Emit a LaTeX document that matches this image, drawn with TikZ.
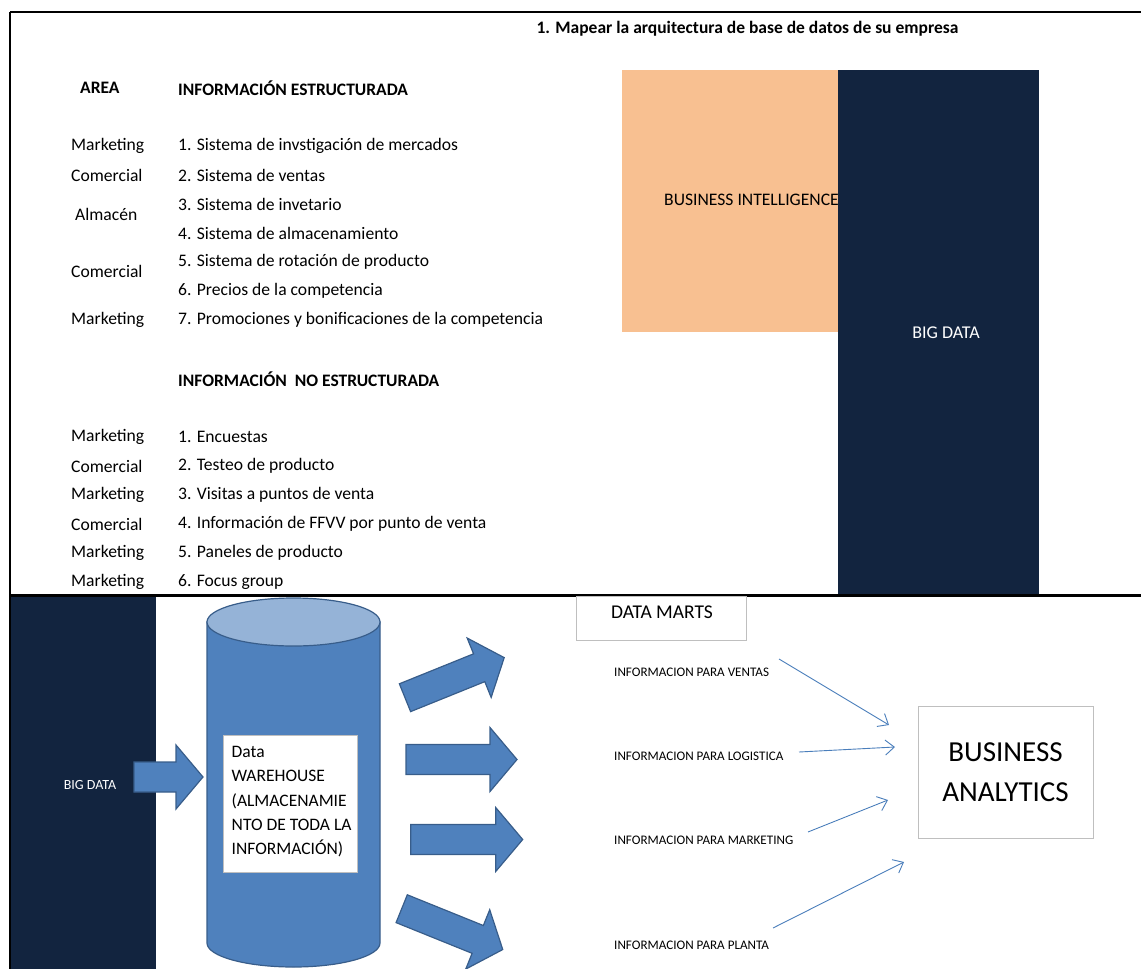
\documentclass[tikz,border=0pt]{standalone}
\usepackage{fontspec}
\setmainfont{Carlito}
\usetikzlibrary{arrows.meta}

\definecolor{naranja}{HTML}{F8C091}
\definecolor{marino}{HTML}{12243F}
\definecolor{azulcil}{HTML}{4F81BD}
\definecolor{azultapa}{HTML}{95B3D7}
\definecolor{azulborde}{HTML}{385D8A}
\definecolor{azulflecha}{HTML}{4A7EBB}
\definecolor{grisborde}{HTML}{BFBFBF}

% flecha gruesa: x, y, angulo, largo
\newcommand{\flechagorda}[4]{%
  \begin{scope}[shift={(#1,#2)},rotate=#3]
    \filldraw[bloque] (0,-15) -- (#4-27,-15) -- (#4-27,-32) -- (#4,0)
      -- (#4-27,32) -- (#4-27,15) -- (0,15) -- cycle;
  \end{scope}}

\begin{document}
\begin{tikzpicture}[
  x=1pt, y=-1pt,
  line join=miter,
  texto/.style={inner sep=0, anchor=west, font=\fontsize{17.6}{20}\selectfont},
  titulo/.style={inner sep=0, anchor=west, font=\bfseries\fontsize{17.5}{20}\selectfont},
  chico/.style={inner sep=0, anchor=west, font=\fontsize{13.1}{15}\selectfont},
  bloque/.style={fill=azulcil, draw=azulborde, line width=1.2},
  caja/.style={draw=grisborde, line width=0.8, fill=white},
  fino/.style={draw=azulflecha, line width=0.9, -{Straight Barb[length=9pt,width=15pt]}}
]
  \useasboundingbox (0,0) rectangle (1141,969);

  % Marco
  \draw[line width=2] (10,12) -- (1141,12);
  \draw[line width=2.5] (10,12) -- (10,969);

  % Titulo
  \node[titulo, anchor=center] (tit) at (747.5,29)
    {1. Mapear la arquitectura de base de datos de su empresa};

  % Encabezados
  \node[titulo] (harea) at (80,88) {AREA};
  \node[titulo] (hest) at (178,88) {INFORMACIÓN ESTRUCTURADA};
  \node[titulo] (hnoest) at (178,379) {INFORMACIÓN~ NO ESTRUCTURADA};

  % Informacion estructurada
  \node[texto] (a1) at (71,146) {Marketing};
  \node[texto] (a2) at (71,175) {Comercial};
  \node[texto] (a3) at (75,214) {Almacén};
  \node[texto] (a4) at (71,271) {Comercial};
  \node[texto] (a5) at (71,320) {Marketing};

  \node[texto] (e1) at (178,146) {1. Sistema de invstigación de mercados};
  \node[texto] (e2) at (178,175) {2. Sistema de ventas};
  \node[texto] (e3) at (178,204) {3. Sistema de invetario};
  \node[texto] (e4) at (178,233) {4. Sistema de almacenamiento};
  \node[texto] (e5) at (178,262) {5. Sistema de rotación de producto};
  \node[texto] (e6) at (178,291) {6. Precios de la competencia};
  \node[texto] (e7) at (178,320) {7. Promociones y bonificaciones de la competencia};

  % Informacion no estructurada
  \node[texto] (b1) at (71,437) {Marketing};
  \node[texto] (b2) at (71,466) {Comercial};
  \node[texto] (b3) at (71,495) {Marketing};
  \node[texto] (b4) at (71,524) {Comercial};
  \node[texto] (b5) at (71,553) {Marketing};
  \node[texto] (b6) at (71,582) {Marketing};

  \node[texto] (n1) at (178,437) {1. Encuestas};
  \node[texto] (n2) at (178,466) {2. Testeo de producto};
  \node[texto] (n3) at (178,495) {3. Visitas a puntos de venta};
  \node[texto] (n4) at (178,524) {4. Información de FFVV por punto de venta};
  \node[texto] (n5) at (178,553) {5. Paneles de producto};
  \node[texto] (n6) at (178,582) {6. Focus group};

  % BI y Big Data
  \fill[naranja] (622,70) rectangle (838,332);
  \node[texto, anchor=west] (bi) at (664,200) {BUSINESS INTELLIGENCE};
  \fill[marino] (838,70) rectangle (1039,595);
  \node[texto, anchor=center, text=white, font=\fontsize{18}{20}\selectfont] (bd) at (946,333) {BIG DATA};

  \draw[line width=3] (10,595) -- (1141,595);

  % Parte inferior
  \fill[marino] (11,596.5) rectangle (156,969);
  \node[chico, anchor=center, text=white, font=\fontsize{14}{16}\selectfont] (bd2) at (90,785) {BIG DATA};

  \flechagorda{134}{777}{0}{69}

  % Data warehouse
  \filldraw[fill=azulcil, draw=azulborde, line width=1.2] (207,622) -- (207,943)
    arc[start angle=180, end angle=0, x radius=86.5, y radius=24] -- (380,622) -- cycle;
  \filldraw[fill=azultapa, draw=azulborde, line width=1.2] (293.5,622)
    ellipse[x radius=86.5, y radius=24];
  \node[caja, minimum width=134, minimum height=137] (dw) at (290,803.5) {};
  \node[inner sep=0, anchor=north west, align=left,
    font=\fontsize{17.5}{24.3}\selectfont] (dwt) at (231.5,746)
    {Data\\WAREHOUSE\\(ALMACENAMIE\\NTO DE TODA LA\\INFORMACIÓN)};

  \flechagorda{405}{697.7}{22}{107}
  \flechagorda{406}{759.5}{0}{111}
  \flechagorda{410.7}{839.5}{0}{112}
  \flechagorda{401.7}{908.7}{-22}{109}

  % Data marts
  \draw[grisborde, line width=0.8] (576,596.5) rectangle (746,640);
  \node[inner sep=0, font=\fontsize{19.5}{21}\selectfont] (dm) at (662,612) {DATA MARTS};

  \node[chico] (m1) at (614,672) {INFORMACION PARA VENTAS};
  \node[chico] (m2) at (614,756) {INFORMACION PARA LOGISTICA};
  \node[chico] (m3) at (614,840) {INFORMACION PARA MARKETING};
  \node[chico] (m4) at (614,945) {INFORMACION PARA PLANTA};

  % Business analytics
  \node[caja, minimum width=175, minimum height=132, align=center,
    font=\fontsize{29}{40}\selectfont] (ba) at (1005.5,772) {BUSINESS\\ANALYTICS};

  \coordinate (s1) at (779,659);  \coordinate (t1) at (889,725);
  \coordinate (s2) at (799,752);  \coordinate (t2) at (895,747);
  \coordinate (s3) at (808,832);  \coordinate (t3) at (888,800);
  \coordinate (s4) at (773,928);  \coordinate (t4) at (904,862);

  \draw[fino] (s1) -- (t1);
  \draw[fino] (s2) -- (t2);
  \draw[fino] (s3) -- (t3);
  \draw[fino] (s4) -- (t4);
\end{tikzpicture}
\end{document}
